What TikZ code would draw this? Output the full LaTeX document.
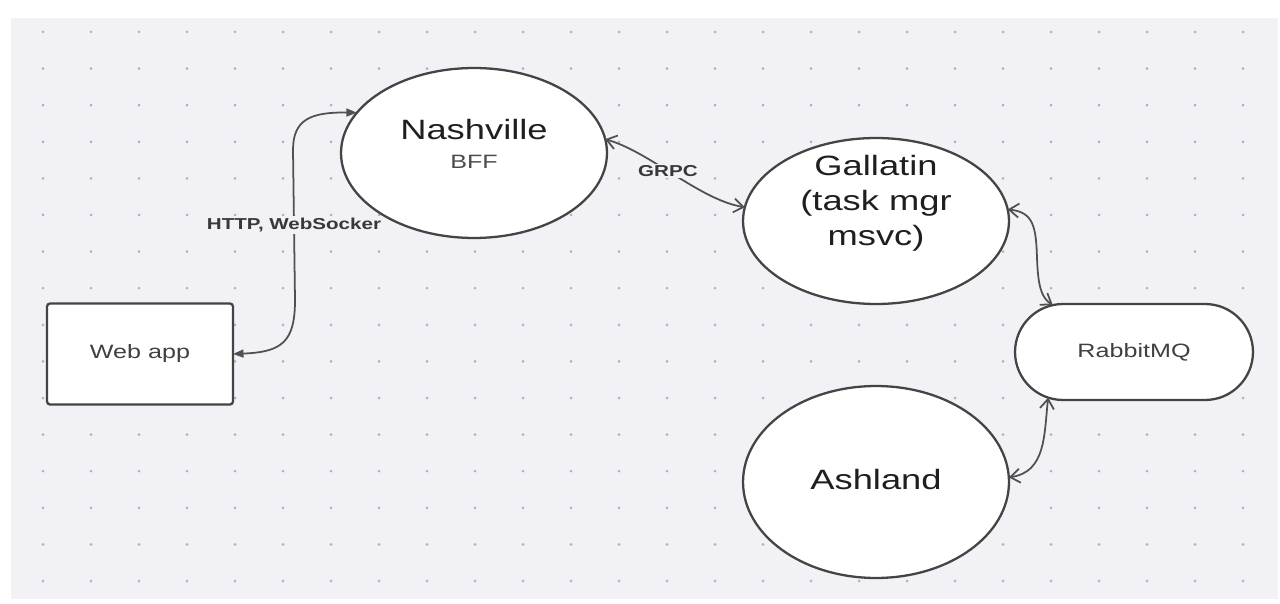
\documentclass[tikz,border=0pt]{standalone}
\usepackage{fontspec}
\usepackage{graphicx}
\setmainfont{Liberation Sans}
\usetikzlibrary{arrows.meta,shapes.geometric,shapes.misc}
\definecolor{canvasbg}{RGB}{241,241,246}
\definecolor{griddot}{RGB}{178,178,186}
\definecolor{inkline}{RGB}{68,68,68}
\definecolor{wireline}{RGB}{80,80,80}
\newcommand{\widetxt}[1]{\scalebox{1.3}[1]{#1}}
\begin{document}
\begin{tikzpicture}[x=0.02cm, y=-0.02cm,
    bubble/.style={ellipse, draw=inkline, line width=1.3pt, fill=white, inner sep=0pt, outer sep=0pt},
    bigtxt/.style={font=\fontsize{15.9}{20}\selectfont, text=black!88, align=center, inner sep=0pt},
    smalltxt/.style={font=\fontsize{11}{13}\selectfont, text=black!70, inner sep=0pt},
    wirelbl/.style={font=\fontsize{9}{11}\selectfont\bfseries, text=black!78, fill=canvasbg, inner sep=1pt},
    wire/.style={draw=wireline, line width=1pt},
    solidtips/.style={{Triangle[length=6pt,width=4.5pt]}-{Triangle[length=6pt,width=4.5pt]}},
    barbtips/.style={{Straight Barb[length=5.5pt,width=8pt]}-{Straight Barb[length=5.5pt,width=8pt]}}]
  \useasboundingbox (0,0) rectangle (1280,604);
  \fill[white] (0,0) rectangle (1280,604);
  \fill[canvasbg] (11,18) rectangle (1278,599);
  % dotted grid
  \foreach \i in {0,...,25} {
    \foreach \j in {0,...,15} {
      \fill[griddot] ({43+48*\i},{32+36.6*\j}) circle (1.5);
    }
  }
  % nodes
  \node[bubble, minimum width=5.32cm, minimum height=3.4cm] (nash) at (474,153) {};
  \node[bigtxt] (nashtxt) at (474,130) {\widetxt{Nashville}};
  \node[smalltxt] (bff) at (474,162) {\widetxt{BFF}};
  \node[bubble, minimum width=5.32cm, minimum height=3.32cm] (gal) at (876,221) {};
  \node[bigtxt, font=\fontsize{15.9}{19.8}\selectfont] (galtxt) at (876,203) {\widetxt{Gallatin}\\\widetxt{(task mgr}\\\widetxt{msvc)}};
  \node[bubble, minimum width=5.32cm, minimum height=3.84cm] (ash) at (876,482) {};
  \node[bigtxt] (ashtxt) at (876,480) {\widetxt{Ashland}};
  \node[rounded rectangle, draw=inkline, line width=1.3pt, fill=white, minimum width=4.76cm, minimum height=1.92cm, inner sep=0pt, outer sep=0pt,
    font=\fontsize{11}{13}\selectfont, text=black!75] (rabbit) at (1134,352) {\widetxt{RabbitMQ}};
  \node[draw=inkline, line width=1.3pt, fill=white, rounded corners=1.7pt, minimum width=3.72cm, minimum height=2.02cm, inner sep=0pt, outer sep=0pt,
    font=\fontsize{11}{13}\selectfont, text=black!75] (web) at (140,354) {\widetxt{Web app}};
  % connectors
  \draw[wire, solidtips] (web.east) .. controls (282,352) and (295,342) .. (295,300)
    -- node[wirelbl] (httplbl) {\widetxt{HTTP, WebSocker}} (293,150)
    .. controls (293,120) and (310,112) .. (nash.161);
  \draw[wire, barbtips] (nash.6) .. controls (650,152) and (700,200) .. node[wirelbl, pos=0.45] (grpclbl) {\widetxt{GRPC}} (gal.174);
  \draw[wire, barbtips] (gal.5) .. controls (1034,212) and (1036,228) .. (1037,258)
    .. controls (1038,288) and (1042,298) .. (rabbit.150);
  \draw[wire, barbtips] (rabbit.208) .. controls (1044,435) and (1046,472) .. (ash.2);
\end{tikzpicture}
\end{document}
